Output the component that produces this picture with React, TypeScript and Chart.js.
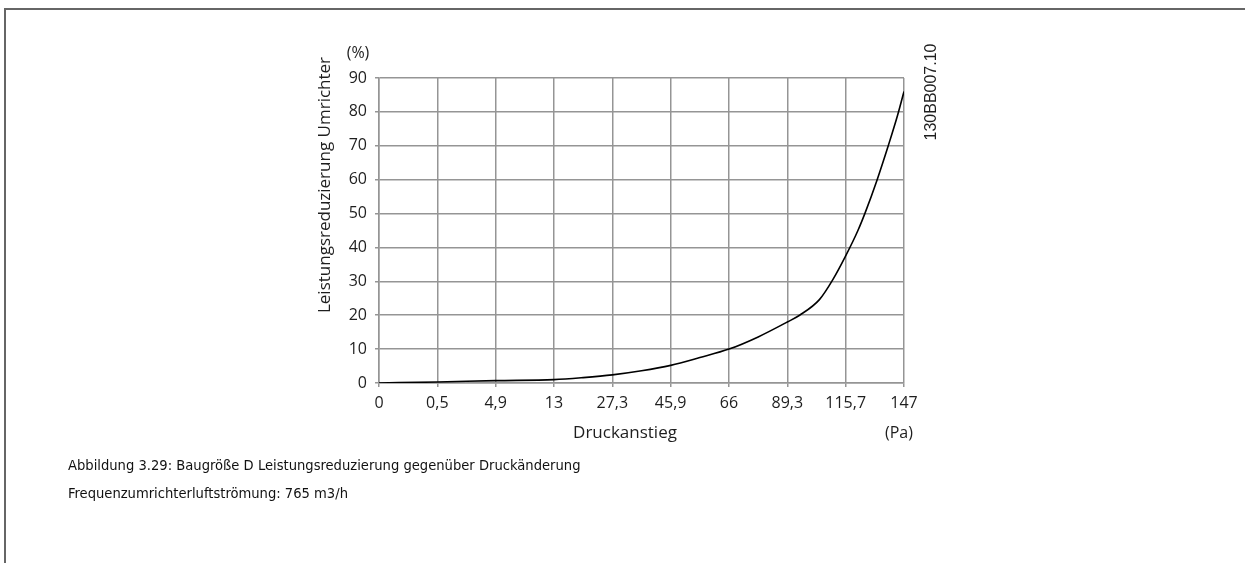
import React, { useEffect, useRef } from "react";
import { Chart, registerables } from "chart.js";

Chart.register(...registerables);

// X axis categories (pressure rise, Pa) – evenly spaced on the chart
const xTickLabels = ["0", "0,5", "4,9", "13", "27,3", "45,9", "66", "89,3", "115,7", "147"];
// Y axis range (%)
const yMin = 0;
const yMax = 90;
const yStep = 10;
// Curve: position along category axis (index) and derating value (%)
const curvePositions = [0, 1, 2, 3, 3.5, 4, 4.5, 5, 5.5, 6, 6.5, 7, 7.21, 7.55, 7.78, 8, 8.21, 8.34, 8.54, 8.73, 8.89, 9];
const curveValues = [0, 0.3, 0.7, 1.0, 1.6, 2.4, 3.6, 5.2, 7.5, 10.0, 13.6, 18.0, 20.0, 24.6, 30.5, 37.5, 45.0, 50.5, 60.0, 70.0, 79.0, 86.0];

const textColor = "#1e1e1e";
const gridColor = "#959595";
const chartFont = "'Open Sans', 'Noto Sans', sans-serif";

const annotatePlugin = {
  id: "annotate",
  afterDraw(chart: any) {
    const { ctx, chartArea: a } = chart;
    ctx.save();
    ctx.fillStyle = textColor;
    ctx.font = `16px ${chartFont}`;
    ctx.textAlign = "center";
    ctx.textBaseline = "middle";
    ctx.fillText("(%)", a.left - 21, a.top - 25);
    ctx.font = `17px ${chartFont}`;
    ctx.fillText("Druckanstieg", 625, a.bottom + 50);
    ctx.font = `16px ${chartFont}`;
    ctx.fillText("(Pa)", a.right - 5, a.bottom + 50);
    ctx.save();
    ctx.font = `17px ${chartFont}`;
    ctx.translate(325, 185);
    ctx.rotate(-Math.PI / 2);
    ctx.fillText("Leistungsreduzierung Umrichter", 0, 0);
    ctx.restore();
    ctx.save();
    ctx.font = "16px 'Liberation Sans', Arial, sans-serif";
    ctx.translate(932, 92);
    ctx.rotate(-Math.PI / 2);
    ctx.fillText("130BB007.10", 0, 0);
    ctx.restore();
    ctx.restore();
  },
};

export default function App() {
  const canvasRef = useRef<HTMLCanvasElement | null>(null);

  useEffect(() => {
    const canvas = canvasRef.current;
    if (!canvas) return;
    const data = curvePositions.map((x, i) => ({ x, y: curveValues[i] }));
    const chart = new Chart(canvas, {
      type: "line",
      data: {
        datasets: [
          {
            data,
            borderColor: "#000",
            borderWidth: 1.6,
            pointRadius: 0,
            fill: false,
            cubicInterpolationMode: "monotone",
          },
        ],
      },
      options: {
        animation: false,
        responsive: false,
        devicePixelRatio: 1,
        layout: { padding: { left: 0, top: 78, right: 341, bottom: 0 } },
        plugins: { legend: { display: false }, tooltip: { enabled: false }, title: { display: false } },
        scales: {
          x: {
            type: "linear",
            min: 0,
            max: xTickLabels.length - 1,
            afterFit: (s: any) => {
              s.height = 180;
            },
            ticks: {
              stepSize: 1,
              autoSkip: false,
              maxRotation: 0,
              padding: 7,
              color: textColor,
              font: { family: chartFont, size: 16 },
              callback: (v: any) => xTickLabels[Math.round(Number(v))] ?? "",
            },
            grid: { color: gridColor, lineWidth: 1.5, tickLength: 4, drawTicks: true },
            border: { color: gridColor, width: 1.5 },
          },
          y: {
            min: yMin,
            max: yMax,
            afterFit: (s: any) => {
              s.width = 379;
            },
            ticks: {
              stepSize: yStep,
              padding: 8,
              color: textColor,
              font: { family: chartFont, size: 16 },
            },
            grid: { color: gridColor, lineWidth: 1.5, tickLength: 4, drawTicks: true },
            border: { color: gridColor, width: 1.5 },
          },
        },
      },
      plugins: [annotatePlugin],
    });
    return () => chart.destroy();
  }, []);

  const captionStyle: React.CSSProperties = {
    position: "absolute",
    left: 68,
    fontFamily: "'DejaVu Sans Condensed', 'DejaVu Sans', Verdana, sans-serif",
    fontStretch: "condensed",
    fontSize: 14.6,
    color: "#111",
    whiteSpace: "nowrap",
    lineHeight: "18px",
  };

  return (
    <div style={{ position: "fixed", left: 0, top: 0, width: 1245, height: 563, background: "#fff", overflow: "hidden" }}>
      <div
        style={{
          position: "absolute",
          left: 4,
          top: 8,
          right: -10,
          bottom: -10,
          borderTop: "2px solid #666",
          borderLeft: "2px solid #666",
        }}
      />
      <canvas ref={canvasRef} width={1245} height={563} style={{ position: "absolute", left: 0, top: 0, display: "block" }} />
      <div style={{ ...captionStyle, top: 456 }}>
        Abbildung 3.29: Baugröße D Leistungsreduzierung gegenüber Druckänderung
      </div>
      <div style={{ ...captionStyle, top: 484 }}>Frequenzumrichterluftströmung: 765 m3/h</div>
    </div>
  );
}
